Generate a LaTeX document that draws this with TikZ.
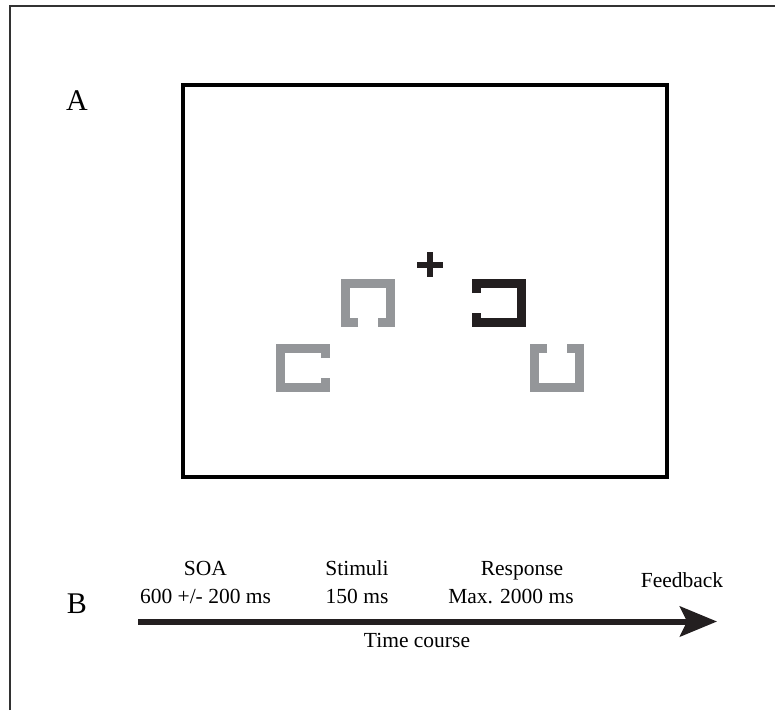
\documentclass[tikz,border=0pt]{standalone}
\usepackage{fontspec}
\setmainfont{Liberation Serif}
\usetikzlibrary{arrows.meta}
\definecolor{stimgray}{RGB}{148,150,153}
\definecolor{stimblack}{RGB}{35,31,32}
\definecolor{framegray}{RGB}{50,50,50}
\begin{document}
\begin{tikzpicture}[x=1pt,y=-1pt,
  lbl/.style={font=\fontsize{21.5}{24}\selectfont, anchor=base, inner sep=0pt},
  panel/.style={font=\fontsize{30}{34}\selectfont, anchor=base, inner sep=0pt},
  stim/.style={line width=9pt, line join=miter, line cap=butt},
  graystim/.style={stim, draw=stimgray},
  blackstim/.style={stim, draw=stimblack}]
\useasboundingbox (0,0) rectangle (775,710);
% outer frame (left and top edges)
\draw[framegray, line width=2pt] (9.5,710) -- (9.5,5.5) -- (775,5.5);
% display screen
\draw[line width=4pt] (183,84.7) rectangle (666.5,477);
% fixation cross
\begin{scope}[shift={(430,264.5)}]
  \draw[stimblack, line width=6pt] (-13,0) -- (13,0);
  \draw[stimblack, line width=6pt] (0,-12.5) -- (0,12.5);
\end{scope}
% top-left gray, opening bottom
\begin{scope}[shift={(368,303)}]
  \draw[graystim] (-10,19.2) -- (-22.5,19.2) -- (-22.5,-19.2) -- (22.5,-19.2) -- (22.5,19.2) -- (10,19.2);
\end{scope}
% black target, opening left
\begin{scope}[shift={(498.7,303)}]
  \draw[blackstim] (-22.5,-10) -- (-22.5,-19.2) -- (22.5,-19.2) -- (22.5,19.2) -- (-22.5,19.2) -- (-22.5,10);
\end{scope}
% bottom-left gray, opening right
\begin{scope}[shift={(303.3,368)}]
  \draw[graystim] (22.5,-10) -- (22.5,-19.2) -- (-22.5,-19.2) -- (-22.5,19.2) -- (22.5,19.2) -- (22.5,10);
\end{scope}
% bottom-right gray, opening top
\begin{scope}[shift={(557,368)}]
  \draw[graystim] (-10,-19.2) -- (-22.5,-19.2) -- (-22.5,19.2) -- (22.5,19.2) -- (22.5,-19.2) -- (10,-19.2);
\end{scope}
% panel labels
\node[panel] (A) at (77,110) {A};
\node[panel] (B) at (77,613) {B};
% timeline labels
\node[lbl] (soa) at (205.5,575) {SOA};
\node[lbl] (soat) at (205.5,603) {600 +/- 200 ms};
\node[lbl] (stim) at (357,575) {Stimuli};
\node[lbl] (stimt) at (357,603) {150 ms};
\node[lbl] (resp) at (522,575) {Response};
\node[lbl] (respt) at (511,603) {Max. 2000 ms};
\node[lbl] (fb) at (682,587) {Feedback};
\node[lbl] (tc) at (417,647) {Time course};
% time arrow
\coordinate (tail) at (138,621.5);
\coordinate (tip) at (717,621.5);
\draw[stimblack, line width=6pt, -{Stealth[length=37pt, width=30pt, inset=7pt]}] (tail) -- (tip);
\end{tikzpicture}
\end{document}
